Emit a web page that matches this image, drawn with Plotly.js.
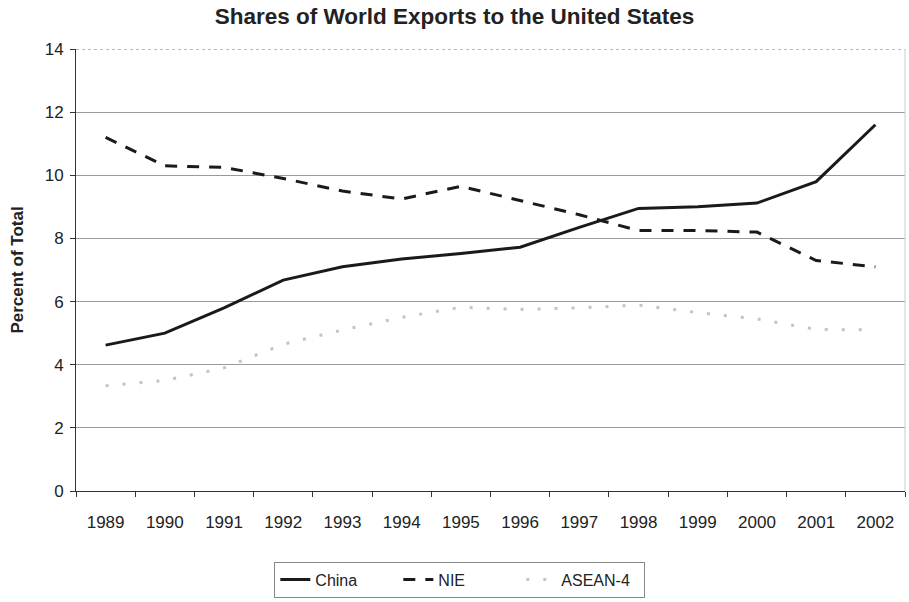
<!DOCTYPE html>
<html>
<head>
<meta charset="utf-8">
<script src="https://cdn.plot.ly/plotly-3.0.1.min.js"></script>
<style>html,body{margin:0;padding:0;background:#fff;}#chart{width:909px;height:602px;}</style>
</head>
<body>
<div id="chart"></div>
<script>
var years = ["1989","1990","1991","1992","1993","1994","1995","1996","1997","1998","1999","2000","2001","2002"];
var china = [4.62, 5.0, 5.8, 6.68, 7.1, 7.35, 7.52, 7.72, 8.35, 8.95, 9.0, 9.12, 9.8, 11.6];
var nie = [11.2, 10.3, 10.25, 9.9, 9.5, 9.25, 9.65, 9.2, 8.75, 8.25, 8.25, 8.2, 7.3, 7.1];
var asean = [3.33, 3.5, 3.9, 4.65, 5.1, 5.5, 5.82, 5.75, 5.8, 5.89, 5.65, 5.45, 5.12, 5.1];
var yTicks = [0, 2, 4, 6, 8, 10, 12, 14];

var traces = [
  {x: years, y: china, name: "China", type: "scatter", mode: "lines",
   line: {color: "#1a1a1a", width: 3}},
  {x: years, y: nie, name: "NIE", type: "scatter", mode: "lines",
   line: {color: "#1a1a1a", width: 3, dash: "12px,10px"}},
  {x: years, y: asean, name: "ASEAN-4", type: "scatter", mode: "lines",
   line: {color: "#c4c4c4", width: 3, dash: "3px,14px"}}
];

var layout = {
  width: 909, height: 602,
  paper_bgcolor: "#fff", plot_bgcolor: "#fff",
  margin: {l: 76, r: 4, t: 49, b: 108},
  font: {family: "Liberation Sans, Arial, sans-serif", color: "#222", size: 17},
  title: {text: "<b>Shares of World Exports to the United States</b>",
          font: {size: 22.5, family: "Liberation Sans, Arial, sans-serif", color: "#222"},
          x: 0.5, xanchor: "center", y: 0.986, yanchor: "top"},
  showlegend: true,
  legend: {orientation: "h", x: 0.463, xanchor: "center", y: -0.16, yanchor: "top",
           bordercolor: "#888", borderwidth: 1, font: {size: 16},
           entrywidth: 78, tracegroupgap: 0},
  xaxis: {type: "category", range: [-0.5, 13.5], tickson: "boundaries", ticks: "outside", ticklen: 5,
          tickcolor: "#333", showline: true, linecolor: "#333", linewidth: 1,
          showgrid: false, tickfont: {size: 17}, ticklabelstandoff: 16},
  yaxis: {range: [0, 14], tickvals: yTicks, ticks: "outside", ticklen: 5, tickcolor: "#333",
          showline: true, linecolor: "#333", linewidth: 1, showgrid: true,
          gridcolor: "#9a9a9a", gridwidth: 1, zeroline: false, tickfont: {size: 17},
          ticklabelstandoff: 3,
          title: {text: "<b>Percent of Total</b>", font: {size: 17}, standoff: 16}},
  shapes: [
    {type: "line", xref: "paper", yref: "y", x0: 0, x1: 1, y0: 14, y1: 14,
     line: {color: "#777", width: 1, dash: "dot"}},
    {type: "line", xref: "paper", yref: "paper", x0: 1, x1: 1, y0: 0, y1: 1,
     line: {color: "#ccc", width: 1}}
  ]
};

Plotly.newPlot("chart", traces, layout, {displayModeBar: false, staticPlot: true});
</script>
</body>
</html>
